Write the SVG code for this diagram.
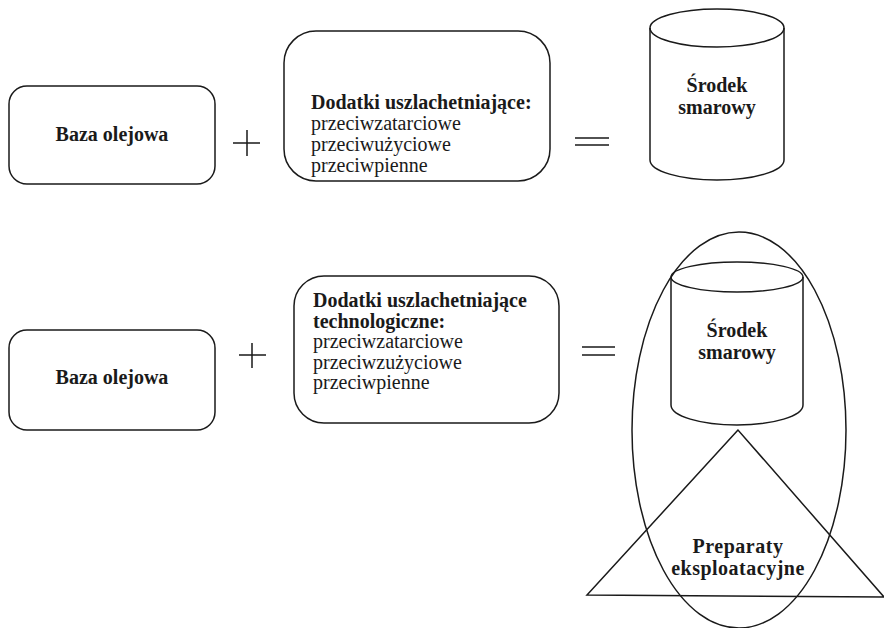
<svg xmlns="http://www.w3.org/2000/svg" width="884" height="628" viewBox="0 0 884 628">
<style>
.s{fill:none;stroke:#1a1a1a;stroke-width:1.5}
.t{font-family:"Liberation Serif","Times New Roman",serif;font-size:20px;fill:#1a1a1a}
.b{font-weight:bold}
.c{text-anchor:middle}
</style>
<rect width="884" height="628" fill="#fff"/>
<g id="baza1">
<rect class="s" x="9" y="86" width="206" height="98" rx="18"/>
<text class="t b c" x="112" y="141">Baza olejowa</text>
</g>
<g id="plus1"><path class="s" d="M247,130V156M233,143H260"/></g>
<g id="dodatki1">
<rect class="s" x="284" y="31" width="266" height="150" rx="32"/>
<text class="t" x="311" y="109"><tspan class="b">Dodatki uszlachetniające:</tspan><tspan x="311" dy="21">przeciwzatarciowe</tspan><tspan x="311" dy="21">przeciwużyciowe</tspan><tspan x="311" dy="21">przeciwpienne</tspan></text>
</g>
<g id="eq1"><path class="s" d="M575,138H609M575,145H609"/></g>
<g id="srodek1">
<path class="s" d="M650,28V160A67,20 0 0 0 784,160V28"/>
<ellipse class="s" cx="717" cy="28" rx="67" ry="19"/>
<text class="t b c" x="717" y="92">Środek</text>
<text class="t b c" x="717" y="114">smarowy</text>
</g>
<g id="baza2">
<rect class="s" x="9" y="330" width="206" height="100" rx="18"/>
<text class="t b c" x="112" y="384">Baza olejowa</text>
</g>
<g id="plus2"><path class="s" d="M252,343V368M239,355H266"/></g>
<g id="dodatki2">
<rect class="s" x="294" y="276" width="265" height="147" rx="30"/>
<text class="t" x="313" y="307"><tspan class="b">Dodatki uszlachetniające</tspan><tspan class="b" x="313" dy="20.5">technologiczne:</tspan><tspan x="313" dy="20.5">przeciwzatarciowe</tspan><tspan x="313" dy="20.5">przeciwzużyciowe</tspan><tspan x="313" dy="20.5">przeciwpienne</tspan></text>
</g>
<g id="eq2"><path class="s" d="M582,347H615M582,355H615"/></g>
<g id="otoczka"><ellipse class="s" cx="739" cy="430" rx="107" ry="198"/></g>
<g id="srodek2">
<path class="s" d="M671,277V405A66,20 0 0 0 803,405V277"/>
<ellipse class="s" cx="737" cy="277" rx="66" ry="15"/>
<text class="t b c" x="737" y="337">Środek</text>
<text class="t b c" x="737" y="359">smarowy</text>
</g>
<g id="preparaty">
<path class="s" d="M738,430L587,595L884,597Z"/>
<text class="t b c" x="738" y="553" letter-spacing="0.5">Preparaty</text>
<text class="t b c" x="738" y="575" letter-spacing="0.5">eksploatacyjne</text>
</g>
</svg>
